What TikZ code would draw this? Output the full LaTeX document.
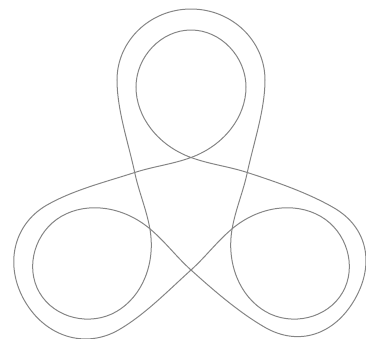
\documentclass[tikz,border=0pt]{standalone}
\begin{document}
\begin{tikzpicture}[x=1pt,y=1pt,strand/.style={black!48,line width=1pt}]
\useasboundingbox (-191,-133) rectangle (175,205);
\foreach \r/\t/\w in {0/196/74,120/192/72,240/189/69}{
\begin{scope}[rotate=\r]
% inner loop, then on to the next outer loop
\draw[strand] (90:47.5) .. controls +(160:35) and +(270:30) .. (-55,118)
  .. controls +(90:30) and +(180:30) .. (0,175)
  .. controls +(0:30) and +(90:30) .. (55,118)
  .. controls +(270:30) and +(20:35) .. (90:47.5)
  .. controls +(200:20) and +(18:20) .. (150:65);
% outer loop, then on to the next inner loop
\draw[strand] (30:65) .. controls +(78:30) and +(270:30) .. (\w,125)
  .. controls +(90:39) and +(0:41) .. (0,\t)
  .. controls +(180:41) and +(90:39) .. (-\w,125)
  .. controls +(270:30) and +(102:30) .. (150:65)
  .. controls +(282:20) and +(100:20) .. (210:47.5);
\end{scope}}
\end{tikzpicture}
\end{document}
